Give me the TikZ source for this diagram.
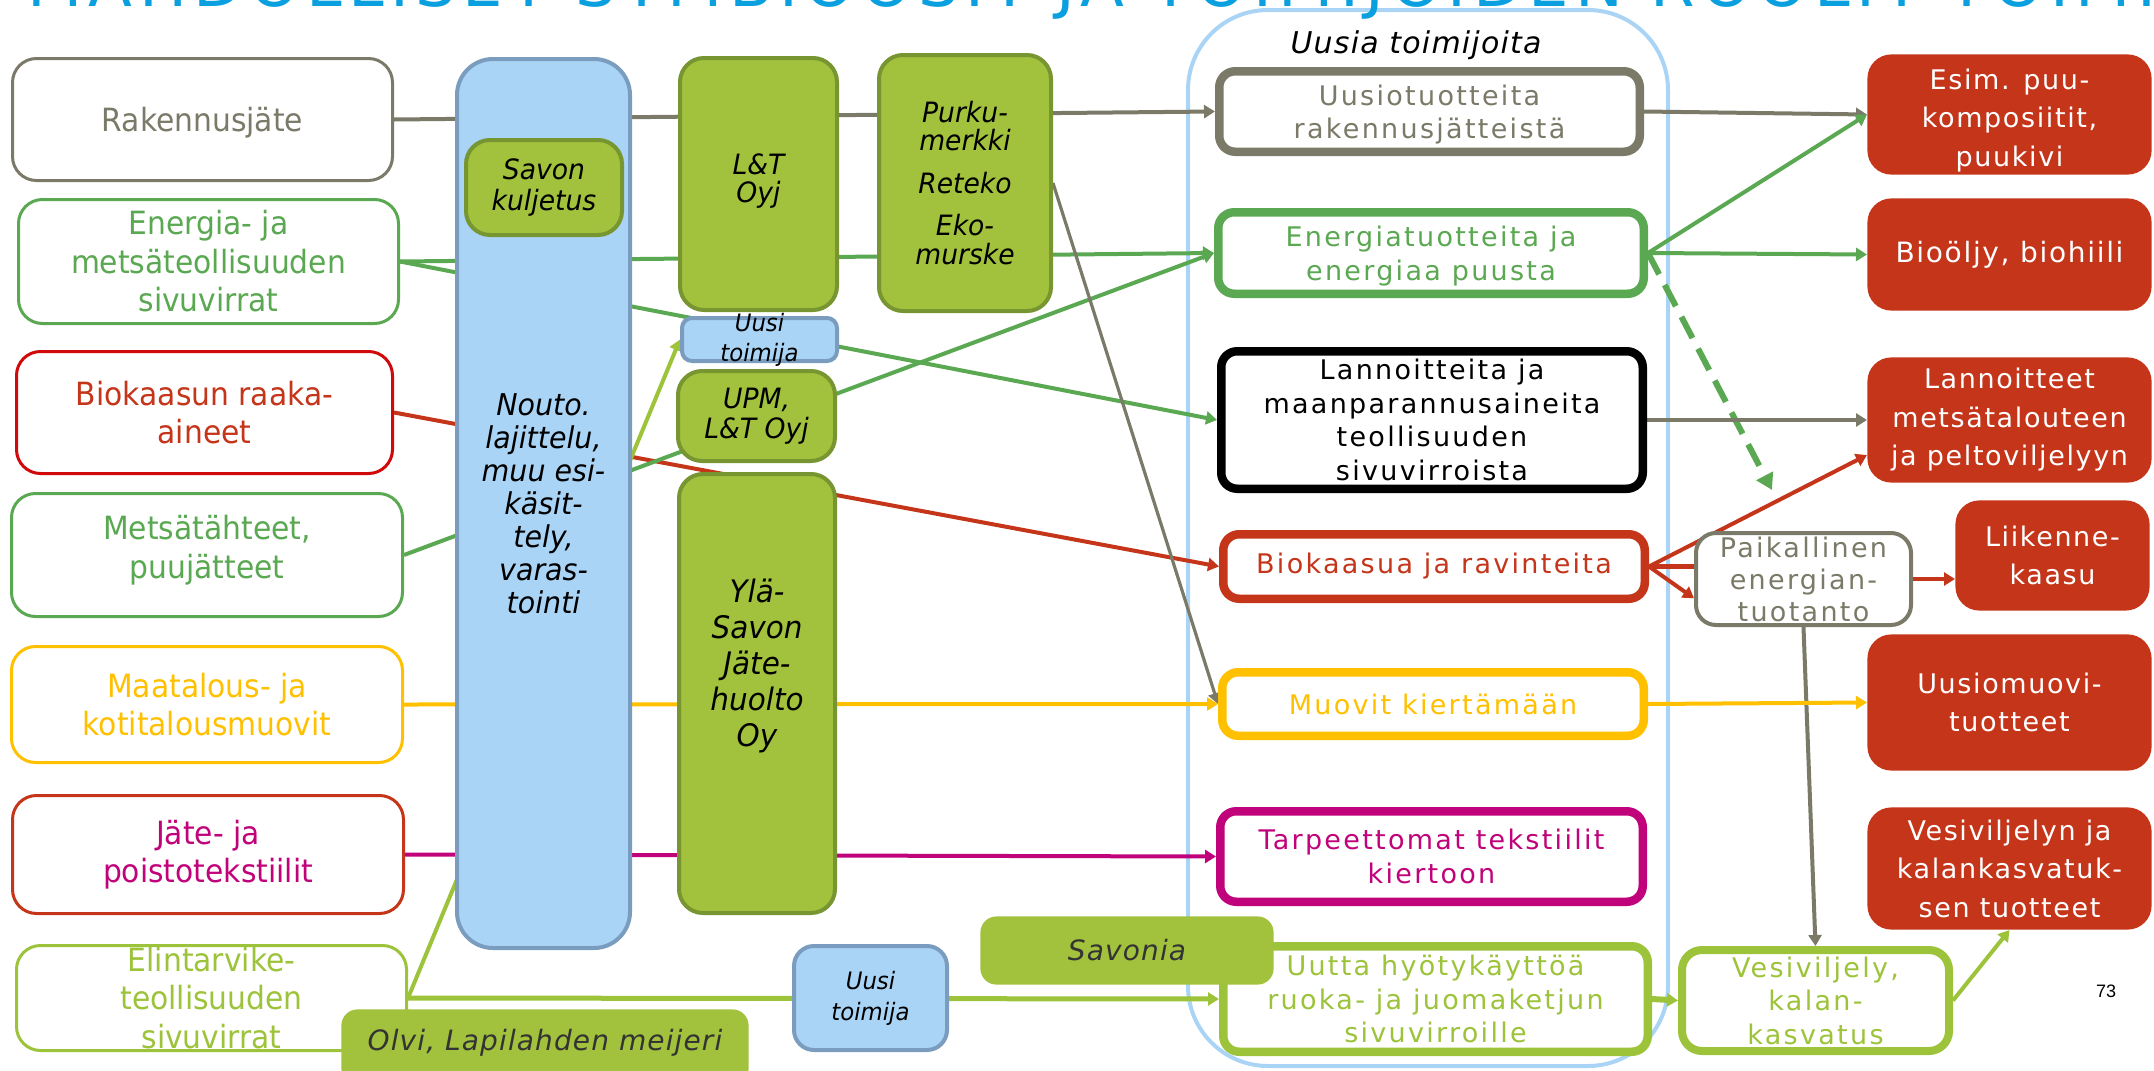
\documentclass[tikz,border=0pt]{standalone}
\usepackage{fontspec}
\setmainfont{DejaVu Sans}
\newfontfamily\labfont[FakeStretch=0.93]{DejaVu Sans}
\newfontfamily\midfont[LetterSpace=8.5]{DejaVu Sans}
\newfontfamily\redfont[LetterSpace=6]{DejaVu Sans}
\newfontfamily\itfont[FakeStretch=0.95]{DejaVu Sans}
\newfontfamily\itwide[LetterSpace=4]{DejaVu Sans}
\newfontfamily\titlefont[LetterSpace=10]{DejaVu Sans}
\newfontfamily\pagefont{Liberation Sans}
\usetikzlibrary{arrows.meta,calc}
\pgfdeclarelayer{bg}
\pgfsetlayers{bg,main}

\definecolor{cgray}{HTML}{7B7A68}
\definecolor{cgreen}{HTML}{5AA851}
\definecolor{clgreen}{HTML}{9DC33B}
\definecolor{gfill}{HTML}{A2C13C}
\definecolor{gdraw}{HTML}{779530}
\definecolor{bfill}{HTML}{A9D4F5}
\definecolor{bdraw}{HTML}{7A9CBF}
\definecolor{cred}{HTML}{C4351A}
\definecolor{cpure}{HTML}{D00A0A}
\definecolor{cyel}{HTML}{FFC000}
\definecolor{cmag}{HTML}{C0037A}
\definecolor{ccont}{HTML}{A9D4F5}
\definecolor{ctitle}{HTML}{0AA0DF}
\definecolor{cdark}{HTML}{333333}

\tikzset{
  every node/.style={inner sep=0pt},
  lbox/.style={draw=#1, line width=1.5pt, rounded corners=12pt, fill=white},
  ltext/.style={text=#1, font=\labfont\fontsize{16}{19.25}\selectfont, align=center},
  mbox/.style={draw=#1, line width=4.25pt, rounded corners=8pt, fill=white},
  mtext/.style={text=#1, font=\midfont\fontsize{13.5}{16.75}\selectfont, align=center},
  rbox/.style={fill=cred, rounded corners=12pt},
  rtext/.style={text=white, font=\redfont\fontsize{13.5}{19.25}\selectfont, align=center},
  gbox/.style={fill=gfill, draw=gdraw, line width=2pt, rounded corners=12pt},
  bbox/.style={fill=bfill, draw=bdraw, line width=2pt, rounded corners=#1},
  btext/.style={text=black, font=\itfont\itshape\fontsize{14}{15.25}\selectfont, align=center},
  sbox/.style={fill=gfill, rounded corners=8pt},
  stext/.style={text=cdark, font=\itwide\itshape\fontsize{14}{15.25}\selectfont, align=center},
  pbox/.style={draw=cgray, line width=2pt, rounded corners=10pt, fill=white},
  ptext/.style={text=cgray, font=\midfont\fontsize{13.5}{16}\selectfont, align=center},
  vbox/.style={draw=clgreen, line width=4pt, rounded corners=10pt, fill=white},
  vtext/.style={text=clgreen, font=\midfont\fontsize{13.5}{16.75}\selectfont, align=center},
  flow/.style={line width=2pt, -{Triangle[length=5.5pt,width=6.5pt]}},
}

% box from outer corners (x1,y1)-(x2,y2), plus its centred text
\newcommand{\boxnode}[8]{%
  \node[#1, minimum width={(#6-#4)*0.5pt-\pgflinewidth},
        minimum height={(#7-#5)*0.5pt-\pgflinewidth}] (#3) at ({(#4+#6)/2},{(#5+#7)/2}) {};
  \node[#2] (#3-t) at (#3.center) {#8};}

\begin{document}
\begin{tikzpicture}[x=0.5pt,y=-0.5pt]
\useasboundingbox (0,0) rectangle (2154,1071);

% title, cut by the top edge
\node[anchor=base west, text=ctitle, font=\titlefont\fontsize{32}{32}\selectfont] (title) at (27,6)
  {MAHDOLLISET SYMBIOOSIT JA TOIMIJOIDEN ROOLIT TOIMINNASSA};

% sources
\boxnode{lbox=cgray}{ltext=cgray, yshift=-1.5pt}{rak}{11}{57}{394}{182}{Rakennusjäte}
\boxnode{lbox=cgreen}{ltext=cgreen}{ener}{17}{198}{400}{325}{Energia- ja\\metsäteollisuuden\\sivuvirrat}
\boxnode{lbox=cpure}{ltext=cred}{bio}{15}{350}{394}{475}{Biokaasun raaka-\\aineet}
\boxnode{lbox=cgreen}{ltext=cgreen, yshift=2.5pt}{mets}{10}{492}{404}{618}{Metsätähteet,\\puujätteet}
\boxnode{lbox=cyel}{ltext=cyel}{maat}{10}{645}{404}{764}{Maatalous- ja\\kotitalousmuovit}
\boxnode{lbox=cred}{ltext=cmag}{jate}{11}{794}{405}{915}{Jäte- ja\\poistotekstiilit}
\boxnode{lbox=clgreen}{ltext=clgreen}{elin}{15}{944}{408}{1052}{Elintarvike-\\teollisuuden\\sivuvirrat}

% operators
\boxnode{bbox=18pt}{btext, font=\itfont\itshape\fontsize{15}{16.5}\selectfont}{nouto}{455}{57}{632}{950}{Nouto.\\lajittelu,\\muu esi-\\käsit-\\tely,\\varas-\\tointi}
\boxnode{gbox}{btext}{savon}{464}{138}{624}{237}{Savon\\kuljetus}
\boxnode{gbox}{btext, font=\itfont\itshape\fontsize{14}{14.25}\selectfont, yshift=1.5pt}{lt}{678}{56}{839}{312}{L\&T\\Oyj}
\boxnode{gbox}{btext, font=\itfont\itshape\fontsize{14}{14.25}\selectfont}{purku}{877}{53}{1053}{313}{Purku-\\merkki\\[7pt]Reteko\\[7pt]Eko-\\murske}
\boxnode{bbox=5pt}{btext, font=\itfont\itshape\fontsize{12}{15}\selectfont}{uusi}{680}{316}{839}{363}{Uusi\\toimija}
\boxnode{gbox}{btext}{upm}{676}{369}{837}{463}{UPM,\\L\&T Oyj}
\boxnode{gbox}{btext, font=\itfont\itshape\fontsize{15.5}{18}\selectfont, yshift=14pt}{yla}{677}{472}{837}{915}{Ylä-\\Savon\\Jäte-\\huolto\\Oy}

% new actors
\begin{pgfonlayer}{bg}
\node[draw=ccont, line width=2pt, rounded corners=40pt,
      minimum width={484*0.5pt-2pt}, minimum height={1060*0.5pt-2pt}] (cont) at (1428,538) {};
\end{pgfonlayer}
\node[anchor=base, font=\itwide\itshape\fontsize{15}{17}\selectfont] (contlab) at (1416,53) {Uusia toimijoita};

\boxnode{mbox=cgray}{mtext=cgray, yshift=-1.5pt}{uusio}{1215}{67}{1644}{156}{Uusiotuotteita\\rakennusjätteistä}
\boxnode{mbox=cgreen}{mtext=cgreen, yshift=-1.5pt}{energ}{1214}{208}{1648}{298}{Energiatuotteita ja\\energiaa puusta}
\boxnode{mbox=black}{mtext=black}{lann}{1217}{347}{1647}{493}{Lannoitteita ja\\maanparannusaineita\\teollisuuden\\sivuvirroista}
\boxnode{mbox=cred}{mtext=cred}{biok}{1219}{530}{1649}{603}{Biokaasua ja ravinteita}
\boxnode{mbox=cyel}{mtext=cyel}{muovi}{1218}{668}{1648}{740}{Muovit kiertämään}
\boxnode{mbox=cmag}{mtext=cmag}{tarp}{1216}{807}{1647}{906}{Tarpeettomat tekstiilit\\kiertoon}
\boxnode{mbox=clgreen}{mtext=clgreen}{uutta}{1219}{942}{1652}{1056}{Uutta hyötykäyttöä\\ruoka- ja juomaketjun\\sivuvirroille}

% products
\boxnode{rbox}{rtext, yshift=-3pt}{esim}{1867}{54}{2152}{175}{Esim. puu-\\komposiitit,\\puukivi}
\boxnode{rbox}{rtext, font=\redfont\fontsize{14}{19.25}\selectfont}{bioolj}{1867}{198}{2152}{311}{Bioöljy, biohiili}
\boxnode{rbox}{rtext}{lannr}{1867}{357}{2152}{483}{Lannoitteet\\metsätalouteen\\ja peltoviljelyyn}
\boxnode{rbox}{rtext}{liik}{1955}{500}{2150}{611}{Liikenne-\\kaasu}
\boxnode{rbox}{rtext}{uusm}{1867}{634}{2152}{771}{Uusiomuovi-\\tuotteet}
\boxnode{rbox}{rtext}{vesiv}{1867}{807}{2152}{930}{Vesiviljelyn ja\\kalankasvatuk-\\sen tuotteet}

\boxnode{pbox}{ptext}{paik}{1694}{531}{1913}{627}{Paikallinen\\energian-\\tuotanto}
\boxnode{vbox}{vtext}{vesi}{1678}{946}{1953}{1055}{Vesiviljely,\\kalan-\\kasvatus}

% bottom row
\boxnode{bbox=10pt}{btext, font=\itfont\itshape\fontsize{12}{15.5}\selectfont}{uusib}{792}{944}{949}{1052}{Uusi\\toimija}
\boxnode{sbox}{stext}{savonia}{980}{916}{1274}{985}{Savonia}
\boxnode{sbox}{stext, yshift=2pt}{olvi}{341}{1009}{749}{1085}{Olvi, Lapilahden meijeri}

\node[anchor=base, font=\pagefont\fontsize{9}{10}\selectfont] (page) at (2106,997) {73};

\coordinate (dashend) at (1772,490);

% flows
\begin{pgfonlayer}{bg}
\draw[flow, cgray] (rak.east) -- (uusio.west);
\draw[flow, cgreen] (ener.east) -- (energ.west);
\draw[flow, cgreen] (ener.east) -- (lann.west);
\draw[flow, cred] (bio.east) -- (biok.west);
\draw[flow, cgreen] (mets.east) -- (energ.west);
\draw[flow, cyel] (maat.east) -- (muovi.west);
\draw[flow, cmag] (jate.east) -- (tarp.west);
\draw[flow, clgreen, line width=2.5pt] (elin.east) -- (uutta.west);
\draw[flow, clgreen] (elin.east) -- (uusi.west);
\draw[flow, cgray, line width=1.6pt] (purku.east) -- (muovi.west);

\draw[flow, cgray] (uusio.east) -- (esim.west);
\draw[flow, cgreen] (energ.east) -- (esim.west);
\draw[flow, cgreen] (energ.east) -- (bioolj.west);
\draw[flow, cgreen, line width=3pt, dash pattern=on 12pt off 6pt,
      -{Triangle[length=8pt,width=9pt]}] (energ.east) -- (dashend);
\draw[flow, cgray] (lann.east) -- (lannr.west);
\draw[flow, cred] (biok.east) -- ($(lannr.west)+(0,35)$);
\draw[cred, line width=2.5pt] (biok.east) -- (biok.east -| paik.west);
\draw[flow, cred] (biok.east) -- (paik.190);
\draw[flow, cred] (paik.east) -- (paik.east -| liik.west);
\draw[flow, cgray] (paik.south) -- (vesi.north);
\draw[flow, cyel] (muovi.east) -- (uusm.west);
\draw[flow, clgreen, line width=3pt] (uutta.east) -- (vesi.west);
\draw[flow, clgreen] (vesi.east) -- (vesiv.south);
\end{pgfonlayer}
\end{tikzpicture}
\end{document}
